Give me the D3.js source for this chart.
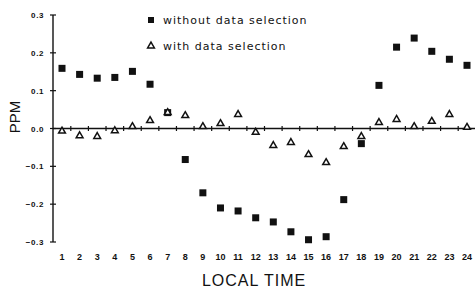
<!DOCTYPE html>
<html>
<head>
<meta charset="utf-8">
<script src="https://cdn.jsdelivr.net/npm/d3@7"></script>
<style>
  body { margin: 0; background: #fff; }
  svg { display: block; }
</style>
</head>
<body>
<svg id="chart" width="475" height="289"></svg>
<script>
var hours = d3.range(1, 25),
  withoutSel = [0.159, 0.143, 0.133, 0.135, 0.151, 0.117, 0.042, -0.082, -0.170, -0.210,
    -0.218, -0.236, -0.247, -0.273, -0.294, -0.286, -0.188, -0.040, 0.114, 0.215,
    0.239, 0.204, 0.183, 0.167],
  withSel = [-0.007, -0.019, -0.021, -0.006, 0.005, 0.021, 0.042, 0.034, 0.005, 0.013,
    0.037, -0.010, -0.045, -0.037, -0.069, -0.090, -0.048, -0.021, 0.016, 0.024,
    0.005, 0.019, 0.037, 0.003],
  yTicks = [-0.3, -0.2, -0.1, 0, 0.1, 0.2, 0.3],
  halfHours = d3.range(1.5, 24.5, 1);

var svg = d3.select('#chart'),
  x = d3.scaleLinear().domain([1, 24]).range([62, 467]),
  y = d3.scaleLinear().domain([-0.3, 0.3]).range([242, 15]),
  axisX = 53,
  ink = '#111';

// left axis
svg.append('line').attr('x1', axisX).attr('x2', axisX)
  .attr('y1', y(0.3)).attr('y2', y(-0.3))
  .attr('stroke', ink).attr('stroke-width', 1.4);

svg.selectAll('.ytick').data(yTicks).enter().append('line')
  .attr('x1', axisX - 3).attr('x2', axisX + 3)
  .attr('y1', function(d) { return y(d); }).attr('y2', function(d) { return y(d); })
  .attr('stroke', ink).attr('stroke-width', 1.2);

svg.selectAll('.ylab').data(yTicks).enter().append('text')
  .attr('x', 44).attr('y', function(d) { return y(d) + 3; })
  .attr('text-anchor', 'end')
  .style('font', 'bold 8px "Liberation Sans", Arial, sans-serif')
  .style('letter-spacing', '0.6px')
  .attr('fill', ink)
  .text(function(d) { return d3.format('.1f')(d); });

// zero line with half-hour ticks
svg.append('line').attr('x1', axisX).attr('x2', 475)
  .attr('y1', y(0)).attr('y2', y(0))
  .attr('stroke', ink).attr('stroke-width', 1.3);

svg.selectAll('.htick').data(halfHours).enter().append('line')
  .attr('x1', function(d) { return x(d); }).attr('x2', function(d) { return x(d); })
  .attr('y1', y(0) - 2.5).attr('y2', y(0) + 2.5)
  .attr('stroke', ink).attr('stroke-width', 1.2);

// hour labels
svg.selectAll('.xlab').data(hours).enter().append('text')
  .attr('x', function(d) { return x(d); }).attr('y', 260)
  .attr('text-anchor', 'middle')
  .style('font', 'bold 9px "Liberation Sans", Arial, sans-serif')
  .attr('fill', ink)
  .text(function(d) { return d; });

// axis titles
svg.append('text').attr('x', 254).attr('y', 286)
  .attr('text-anchor', 'middle')
  .style('font', '16px "Liberation Sans", Arial, sans-serif')
  .style('letter-spacing', '1px')
  .attr('fill', ink)
  .text('LOCAL TIME');

svg.append('text')
  .attr('transform', 'translate(20,117) rotate(-90)')
  .attr('text-anchor', 'middle')
  .style('font', '15px "Liberation Sans", Arial, sans-serif')
  .attr('fill', ink)
  .text('PPM');

// series
var sq = 7,
  tri = d3.symbol().type(d3.symbolTriangle).size(20);

svg.selectAll('.sq').data(hours).enter().append('rect')
  .attr('x', function(d, i) { return x(d) - sq / 2; })
  .attr('y', function(d, i) { return y(withoutSel[i]) - sq / 2; })
  .attr('width', sq).attr('height', sq)
  .attr('fill', ink);

svg.selectAll('.tri').data(hours).enter().append('path')
  .attr('d', tri)
  .attr('transform', function(d, i) { return 'translate(' + x(d) + ',' + y(withSel[i]) + ')'; })
  .attr('fill', '#fff').attr('stroke', ink).attr('stroke-width', 1.5);

// legend
var legend = [
  { label: 'without data selection', y: 20, mark: 'sq' },
  { label: 'with data selection', y: 46, mark: 'tri' }
];
legend.forEach(function(l) {
  if (l.mark === 'sq') {
    svg.append('rect').attr('x', 148).attr('y', l.y - 3)
      .attr('width', 6).attr('height', 6).attr('fill', ink);
  } else {
    svg.append('path').attr('d', tri)
      .attr('transform', 'translate(151,' + l.y + ')')
      .attr('fill', '#fff').attr('stroke', ink).attr('stroke-width', 1.5);
  }
  svg.append('text').attr('x', 163).attr('y', l.y + 4)
    .style('font', '11px "DejaVu Sans", sans-serif')
    .style('letter-spacing', '1px')
    .attr('fill', ink)
    .text(l.label);
});
</script>
</body>
</html>
